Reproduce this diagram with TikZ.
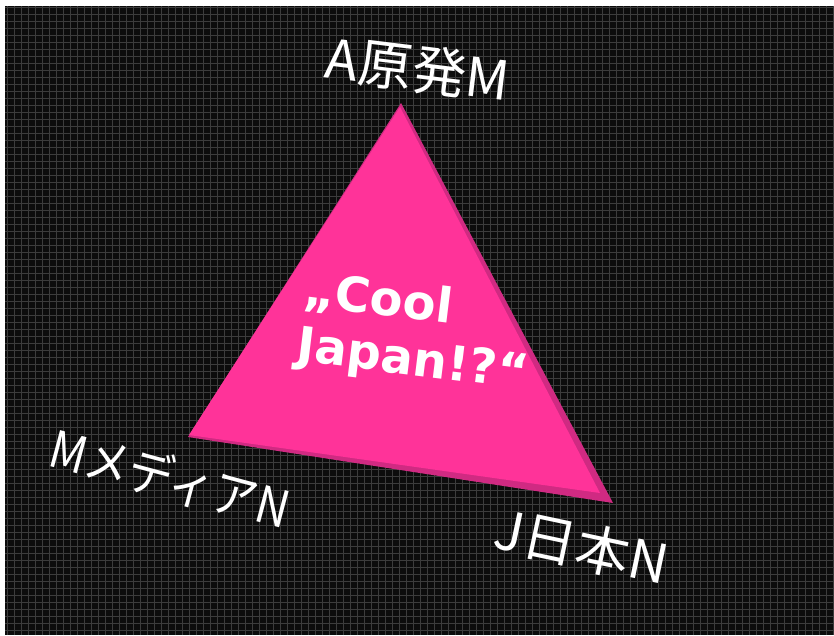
\documentclass[tikz,border=0pt]{standalone}
\usepackage{fontspec}
\usepackage{xcolor}
\newfontfamily\jpfont{Noto Sans CJK JP}
\newfontfamily\headfont{DejaVu Sans}
\definecolor{pinkface}{HTML}{FF3399}
\definecolor{pinkedge}{HTML}{D02A82}
\definecolor{gridline}{HTML}{3C3C3C}
\definecolor{boardbg}{HTML}{0C0C0C}

\begin{document}
\begin{tikzpicture}[x=1pt,y=-1pt,
		lbl/.style={text=white, font=\jpfont\fontsize{54}{60}\selectfont, inner sep=0pt},
		slogan/.style={text=white, align=left, inner sep=0pt, font=\headfont\bfseries\fontsize{48}{56}\selectfont}]
	\useasboundingbox (0,0) rectangle (834,635);
	\fill[white] (0,0) rectangle (834,635);
	% board with grid
	\fill[boardbg] (5,6) rectangle (834,635);
	\draw[gridline, line width=0.7pt] (5,6) grid[step=7pt] (834,635);
	% triangle with bevel
	\coordinate (apex) at (401,103);
	\coordinate (left) at (188,437);
	\coordinate (right) at (613,503);
	\fill[pinkedge] (apex) -- (left) -- (right) -- cycle;
	\fill[pinkface] (400,107) -- (189,435) -- (600,493) -- cycle;
	\node[slogan, rotate=-7] (cool) at (416,334) {„Cool\\Japan!?“};
	% labels
	\node[lbl, rotate=-15, font=\jpfont\fontsize{51}{56}\selectfont] (media) at (170,478) {\scalebox{0.88}[1]{MメディアN}};
	\node[lbl, rotate=-7] (genpatsu) at (418,69) {A原発M};
	\node[lbl, rotate=-12] (nihon) at (582,546) {J日本N};
\end{tikzpicture}
\end{document}
